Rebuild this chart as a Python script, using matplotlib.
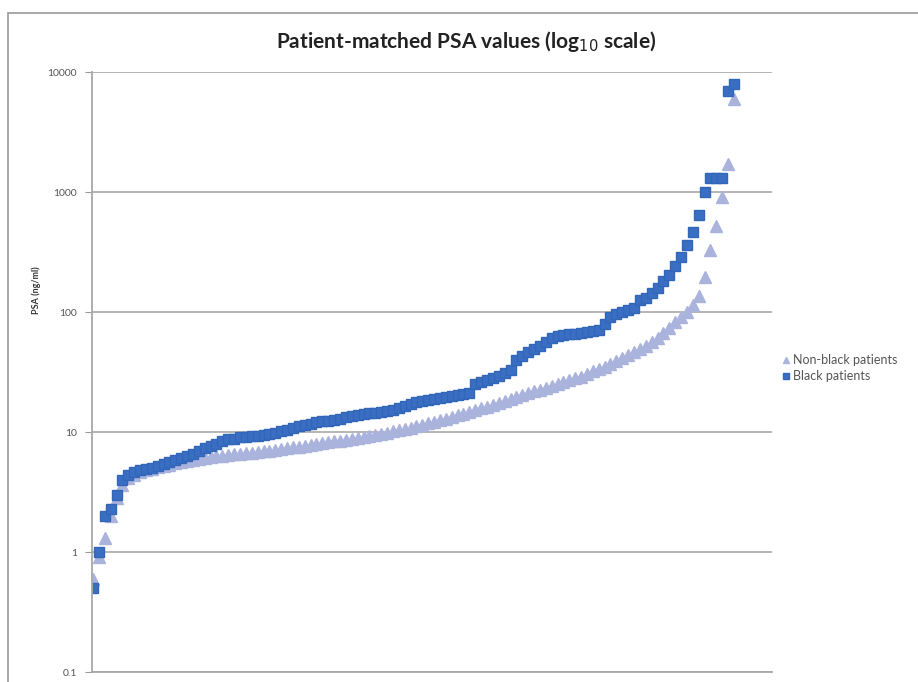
import numpy as np
import matplotlib
matplotlib.use('Agg')
import matplotlib.pyplot as plt
from matplotlib.patches import Rectangle

# PSA values, sorted low -> high (ng/ml)
black_psa = [0.5, 1.0, 2.0, 2.3, 3.0, 4.0, 4.4, 4.6, 4.8, 4.9,
             5.0, 5.2, 5.4, 5.6, 5.8, 6.1, 6.3, 6.6, 7.0, 7.3,
             7.6, 8.0, 8.4, 8.7, 8.8, 9.0, 9.1, 9.2, 9.3, 9.5,
             9.6, 9.9, 10.2, 10.4, 10.7, 11.3, 11.5, 11.7, 12.0, 12.3,
             12.4, 12.6, 12.9, 13.3, 13.6, 13.8, 14.0, 14.3, 14.5, 14.7,
             15.0, 15.3, 15.8, 16.5, 17.2, 17.8, 18.2, 18.5, 18.8, 19.2,
             19.5, 19.8, 20.2, 20.6, 21, 25, 26, 27, 28, 29.5,
             31, 33, 40, 43, 46, 49, 52, 56, 61, 63,
             64, 65, 66, 67, 68, 69, 71, 80, 90, 97,
             100, 103, 108, 125, 132, 145, 160, 180, 205, 240,
             290, 360, 460, 640, 1000, 1300, 1300, 1300, 7000, 8000]

nonblack_psa = [0.6, 0.9, 1.3, 2.0, 2.8, 3.6, 4.1, 4.4, 4.6, 4.8,
                4.95, 5.1, 5.2, 5.35, 5.5, 5.6, 5.7, 5.85, 5.95, 6.05,
                6.15, 6.25, 6.35, 6.45, 6.5, 6.6, 6.65, 6.7, 6.8, 6.9,
                7.0, 7.1, 7.2, 7.3, 7.45, 7.55, 7.7, 7.8, 7.95, 8.1,
                8.2, 8.35, 8.45, 8.6, 8.75, 8.9, 9.1, 9.3, 9.5, 9.7,
                9.9, 10.1, 10.3, 10.6, 10.9, 11.2, 11.5, 11.9, 12.2, 12.6,
                12.9, 13.3, 13.8, 14.2, 14.7, 15.2, 15.7, 16.3, 16.9, 17.5,
                18.2, 18.9, 19.6, 20.3, 21.1, 21.9, 22.6, 23.3, 24.0, 25,
                26, 27, 28, 29, 30.5, 32, 33.5, 35, 37, 39,
                41.5, 44, 46.5, 49, 52, 56, 61, 67, 74, 82,
                91, 100, 115, 135, 195, 330, 520, 900, 1700, 6000]

ytick_vals = [0.1, 1, 10, 100, 1000, 10000]
ytick_labels = ['0.1', '1', '10', '100', '1000', '10000']

plt.rcParams['font.family'] = ['Lato', 'DejaVu Sans']

fig = plt.figure(figsize=(9.18, 6.82), dpi=100)
ax = fig.add_axes([92/918, 1 - 672/682, 680/918, 600/682])

# outer chart frame
fig.patches.append(Rectangle((8/918, -0.1), 1.2, (682 - 13)/682 + 0.1,
                             transform=fig.transFigure, fill=False,
                             edgecolor='#9a9a9a', lw=1.2))

n = len(nonblack_psa)
x_nb = np.arange(1, len(nonblack_psa) + 1)
x_b = np.arange(1, len(black_psa) + 1)

ax.plot(x_nb, nonblack_psa, ls='none', marker='^', ms=8,
        color='#aab3dc', mec='#aab3dc', label='Non-black patients')
ax.plot(x_b, black_psa, ls='none', marker='s', ms=6.5,
        color='#3a6ec2', mec='#3266b8', label='Black patients')

ax.set_yscale('log')
ax.set_ylim(0.1, 10000)
ax.set_xlim(1 - 1/6, 1 + (n - 1) * 679/641)
ax.set_yticks(ytick_vals)
ax.set_yticklabels(ytick_labels)
ax.minorticks_off()
ax.set_xticks([])
ax.tick_params(axis='y', length=5, direction='out', color='#999999',
               labelsize=7.5, labelcolor='#555555', pad=6)
ax.yaxis.grid(True, color='#b0b0b0', lw=1.3)
ax.set_axisbelow(True)
for s in ['top', 'right']:
    ax.spines[s].set_visible(False)
for s in ['left', 'bottom']:
    ax.spines[s].set_color('#a8a8a8')
    ax.spines[s].set_linewidth(1.3)

fig.text(466/918, 1 - 42/682, 'Patient-matched PSA values (log$_{10}$ scale)',
         ha='center', va='center', fontsize=15, fontweight='bold',
         color='#222222')
fig.text(36/918, 1 - 290/682, 'PSA (ng/ml)', rotation=90, ha='center',
         va='center', fontsize=6.5, fontweight='bold', color='#333333')

fig.legend(loc='upper left', bbox_to_anchor=(772/918, 1 - 343/682),
           frameon=False, fontsize=9, handlelength=0.5, handletextpad=0.3,
           labelspacing=0.3, markerscale=0.6, labelcolor='#555555')

plt.savefig('out.png', dpi=100)
